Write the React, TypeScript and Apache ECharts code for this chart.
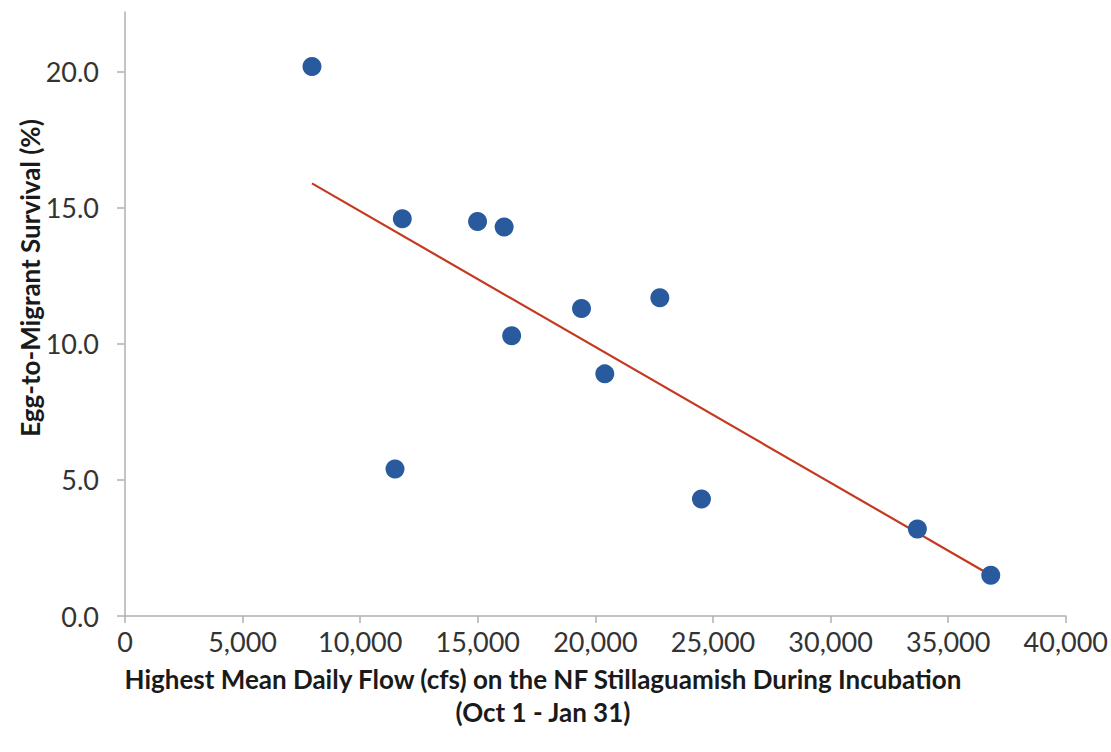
import React, { useEffect, useRef } from "react";
import * as echarts from "echarts";

const flowCfs = [7950, 11480, 11790, 14990, 16120, 16440, 19410, 20400, 22740, 24510, 33690, 36810];
const survivalPct = [20.2, 5.4, 14.6, 14.5, 14.3, 10.3, 11.3, 8.9, 11.7, 4.3, 3.2, 1.5];
const trendFlow = [7950, 36810];
const trendSurvival = [15.9, 1.5];
const xTickValues = [0, 5000, 10000, 15000, 20000, 25000, 30000, 35000, 40000];
const yTickValues = [0, 5, 10, 15, 20];
const xTitleLines = ["Highest Mean Daily Flow (cfs) on the NF Stillaguamish During Incubation", "(Oct 1 - Jan 31)"];
const yTitle = "Egg-to-Migrant Survival (%)";

export default function App() {
  const ref = useRef<HTMLDivElement>(null);
  useEffect(() => {
    if (!ref.current) return;
    const chart = echarts.init(ref.current, null, { renderer: "svg" });
    const axisColor = "#b0b0b0";
    const labelColor = "#333333";
    const font = "Lato, 'Open Sans', sans-serif";
    chart.setOption({
      animation: false,
      backgroundColor: "#ffffff",
      grid: { left: 125, right: 45, top: 12, bottom: 136, containLabel: false },
      xAxis: {
        type: "value",
        min: 0,
        max: 40000,
        interval: 5000,
        splitLine: { show: false },
        axisLine: { show: true, onZero: false, lineStyle: { color: axisColor, width: 1.5 } },
        axisTick: { show: true, length: 7, lineStyle: { color: axisColor, width: 1.5 }, customValues: xTickValues },
        axisLabel: {
          color: labelColor,
          fontFamily: font,
          fontSize: 27,
          margin: 12,
          customValues: xTickValues,
          formatter: (v: number) => v.toLocaleString("en-US"),
        },
      },
      yAxis: {
        type: "value",
        min: 0,
        max: 22.2,
        interval: 5,
        splitLine: { show: false },
        axisLine: { show: true, onZero: false, lineStyle: { color: axisColor, width: 1.5 } },
        axisTick: { show: true, length: 8, lineStyle: { color: axisColor, width: 1.5 }, customValues: yTickValues },
        axisLabel: {
          color: labelColor,
          fontFamily: font,
          fontSize: 27,
          margin: 26,
          customValues: yTickValues,
          formatter: (v: number) => v.toFixed(1),
        },
      },
      graphic: [
        {
          type: "text",
          x: 543,
          y: 679,
          style: {
            text: xTitleLines[0],
            fill: "#1a1a1a",
            font: `bold 26px ${font}`,
            textAlign: "center",
            textVerticalAlign: "middle",
          },
        },
        {
          type: "text",
          x: 543,
          y: 712,
          style: {
            text: xTitleLines[1],
            fill: "#1a1a1a",
            font: `bold 26px ${font}`,
            textAlign: "center",
            textVerticalAlign: "middle",
          },
        },
        {
          type: "text",
          x: 30,
          y: 278,
          rotation: Math.PI / 2,
          style: {
            text: yTitle,
            fill: "#1a1a1a",
            font: `bold 26px ${font}`,
            textAlign: "center",
            textVerticalAlign: "middle",
          },
        },
      ],
      series: [
        {
          type: "line",
          data: trendFlow.map((x, i) => [x, trendSurvival[i]]),
          showSymbol: false,
          symbol: "none",
          lineStyle: { color: "#c4391f", width: 2.2 },
          z: 2,
        },
        {
          type: "scatter",
          data: flowCfs.map((x, i) => [x, survivalPct[i]]),
          symbol: "circle",
          symbolSize: 19,
          itemStyle: { color: "#2a5a9e", opacity: 1 },
          z: 3,
        },
      ],
    });
    return () => chart.dispose();
  }, []);
  return <div ref={ref} style={{ position: "fixed", left: 0, top: 0, width: 1111, height: 752 }} />;
}
